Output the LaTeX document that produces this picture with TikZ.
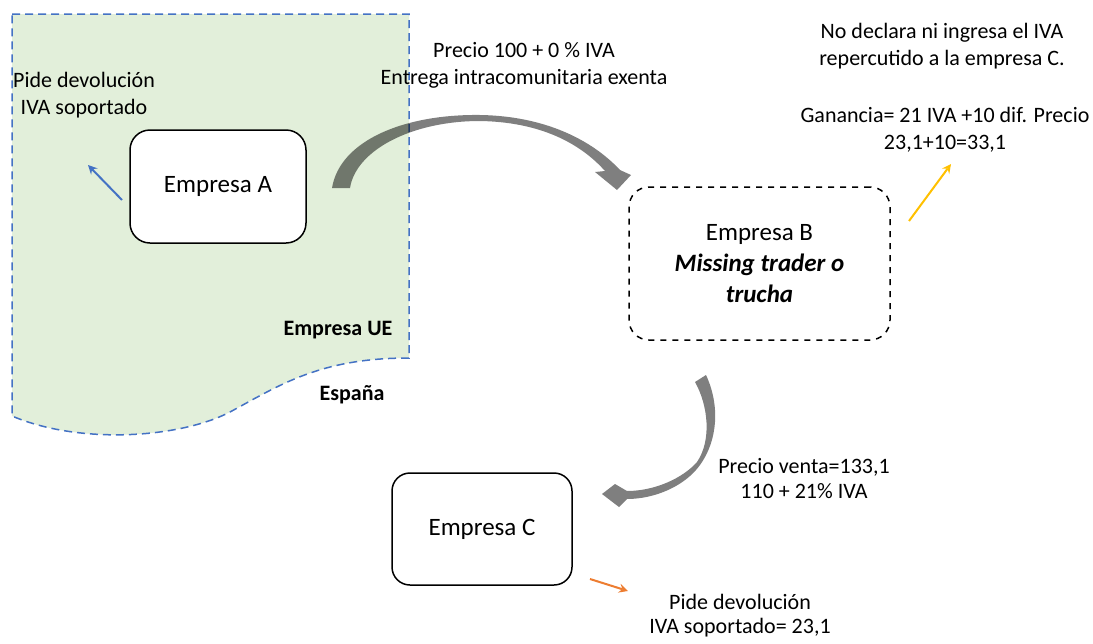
\documentclass[tikz,border=0pt]{standalone}
\usepackage{fontspec}
\setmainfont{Carlito}
\usetikzlibrary{arrows, positioning}
\definecolor{euGreen}{RGB}{226,239,218}
\definecolor{euBlue}{RGB}{68,114,196}
\definecolor{vatOrange}{RGB}{237,125,49}
\definecolor{vatYellow}{RGB}{255,192,0}

\begin{document}
\begin{tikzpicture}[
    x=0.5pt, y=-0.5pt,
    firm/.style={rectangle, draw, rounded corners=10pt, line width=0.75pt, fill=white, align=center, font=\fontsize{12.5}{15.5}\selectfont},
    note/.style={align=center, inner sep=0pt, font=\fontsize{11}{13.5}\selectfont},
    tag/.style={inner sep=0pt, font=\fontsize{11}{13.5}\selectfont\bfseries},
    arrow/.style={->, >=stealth, line width=1pt},
    flow/.style={fill=black, fill opacity=0.5, draw=none}
]
\useasboundingbox (0,0) rectangle (1093,643);

% EU territory
\path[fill=euGreen, draw=euBlue, line width=0.75pt, dash pattern=on 4pt off 2.5pt]
    (12,14) -- (409,14) -- (409,358)
    .. controls (320,358) and (280,385) .. (230,412)
    .. controls (180,438) and (80,445) .. (12,416) -- cycle;
\node[tag] (ue) at (338,330) {Empresa UE};
\node[tag] (spain) at (352,395) {España};

% Companies
\node[firm, minimum width=88pt, minimum height=56.5pt] (empA) at (218,186.5) {Empresa A};
\node[firm, dashed, minimum width=130.5pt, minimum height=76.5pt] (empB) at (759.5,263.5)
    {Empresa B\\\textbf{\textit{Missing trader o}}\\\textbf{\textit{trucha}}};
\node[firm, rounded corners=9pt, minimum width=90pt, minimum height=56pt] (empC) at (482,529) {Empresa C};

% Notes
\node[note] (devA) at (84,95) {Pide devolución\\IVA soportado};
\node[note] (priceAB) at (524,65.5) {Precio 100 + 0 \% IVA\\Entrega intracomunitaria exenta};
\node[note] (noVat) at (942,46) {No declara ni ingresa el IVA\\repercutido a la empresa C.};
\node[note] (gain) at (945,130) {Ganancia= 21 IVA +10 dif. Precio\\23,1+10=33,1};
\node[note, font=\fontsize{11}{12.5}\selectfont] (priceBC) at (804,479) {Precio venta=133,1\\110 + 21\% IVA};
\node[note, font=\fontsize{11}{12}\selectfont] (devC) at (740,616) {Pide devolución\\IVA soportado= 23,1};

% Sales flows
\path[flow] (332,188) .. controls (340,140) and (405,114) .. (480,115)
    .. controls (545,116) and (592,140) .. (620,170)
    -- (631,175) -- (617,190) -- (595,172) -- (605,171)
    .. controls (580,143) and (540,122) .. (480,121)
    .. controls (412,121) and (356,150) .. (350,188) -- cycle;
\path[flow] (706,375) .. controls (720,405) and (718,440) .. (700,465)
    .. controls (685,486) and (655,499) .. (627,499)
    -- (619,507) -- (602,494) -- (615,484) -- (627,491)
    .. controls (655,491) and (683,478) .. (697,462)
    .. controls (712,440) and (708,405) .. (695,382) -- cycle;

% Small arrows
\coordinate (blueS) at (122,200);
\coordinate (blueE) at (88,165);
\coordinate (yellowS) at (909,221);
\coordinate (yellowE) at (951,164);
\coordinate (orangeS) at (590,579);
\coordinate (orangeE) at (628,591);
\draw[arrow, euBlue] (blueS) -- (blueE);
\draw[arrow, vatYellow] (yellowS) -- (yellowE);
\draw[arrow, vatOrange] (orangeS) -- (orangeE);

\end{tikzpicture}
\end{document}
